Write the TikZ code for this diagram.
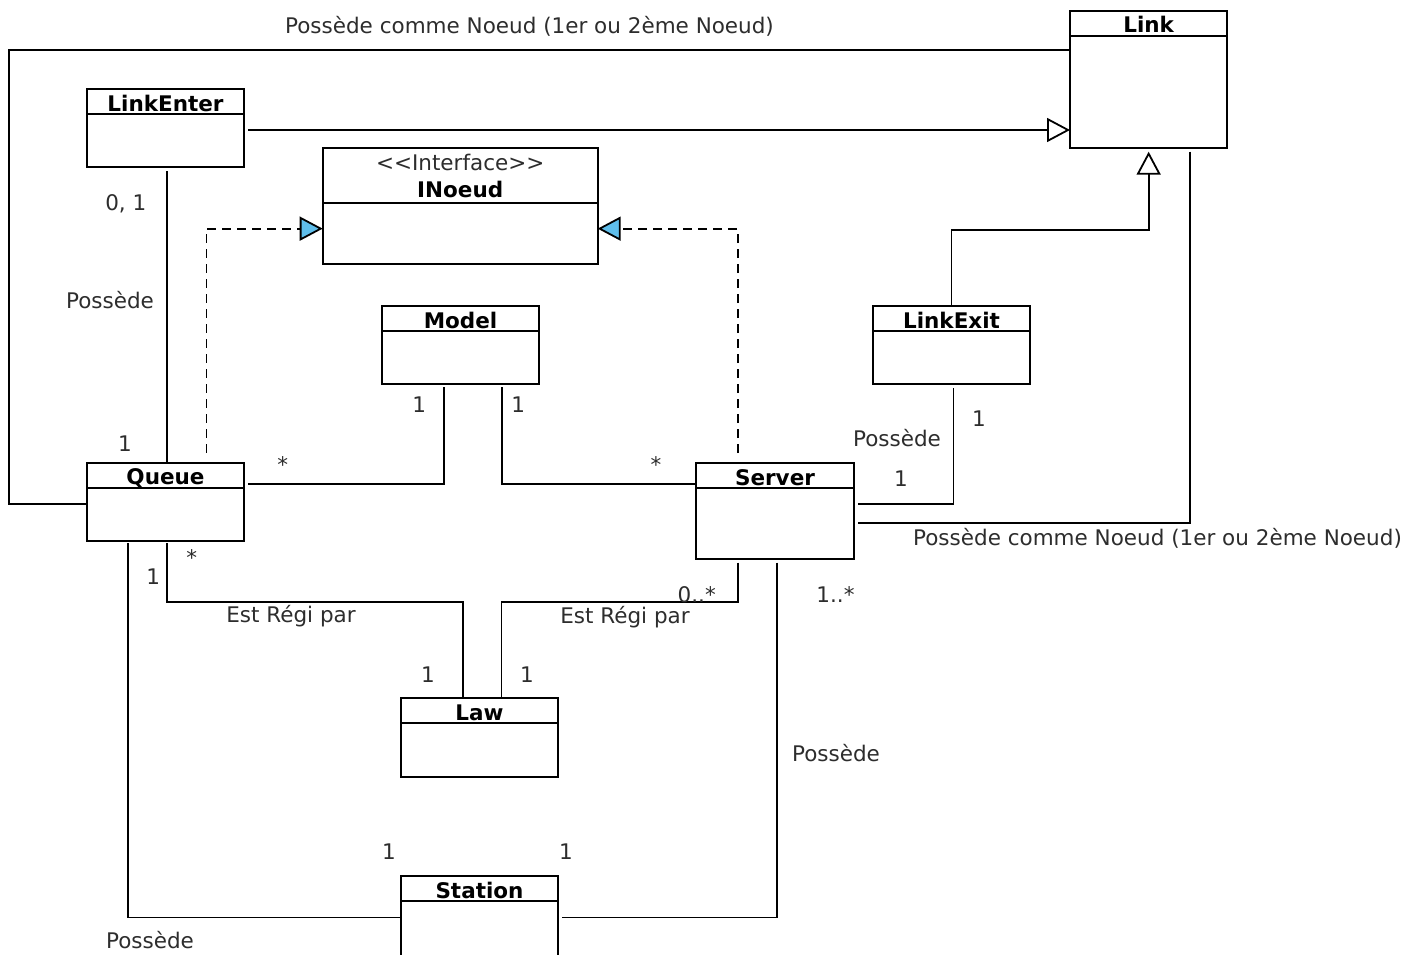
\documentclass[tikz,border=0pt]{standalone}
\usepackage{fontspec}
\setmainfont{DejaVu Sans}
\usetikzlibrary{arrows.meta}

\definecolor{inoeudblue}{RGB}{95,190,235}
\definecolor{labelgray}{RGB}{45,45,45}

\tikzset{
  classbox/.style={draw, line width=1.8pt, inner sep=0pt, outer sep=0pt, fill=white},
  headline/.style={line width=1.8pt},
  classtitle/.style={font=\fontsize{21.5}{26}\selectfont\bfseries, inner sep=0pt, anchor=base},
  lab/.style={font=\fontsize{21.5}{26}\selectfont, text=labelgray, inner sep=0pt, anchor=base},
  assoc/.style={line width=1.8pt},
  gen/.style={line width=1.8pt, -{Triangle[open, length=23pt, width=24pt, line width=1.8pt]}},
  real/.style={line width=1.8pt, dash pattern=on 9pt off 6pt,
    -{Triangle[length=23pt, width=24pt, fill=inoeudblue, line width=1.8pt]}},
}

% name, left, top, width, height, title
\newcommand\umlclass[6]{%
  \node[classbox, minimum width=#4pt, minimum height=#5pt, anchor=north west] (#1) at (#2,#3) {};
  \draw[headline] ([yshift=-25pt]#1.north west) -- ([yshift=-25pt]#1.north east);
  \node[classtitle] (#1-title) at ([yshift=-22pt]#1.north) {#6};
}

\begin{document}
\begin{tikzpicture}[x=1pt, y=-1pt]
\useasboundingbox (0,0) rectangle (1418,954);

% classes
\umlclass{link}{1070}{10.7}{157.3}{137}{Link}
\umlclass{linkenter}{86.7}{89.3}{157.6}{78}{LinkEnter}
\umlclass{model}{382}{306}{157}{78}{Model}
\umlclass{linkexit}{873}{306}{157}{78}{LinkExit}
\umlclass{queue}{86.7}{462.7}{157.6}{78.6}{Queue}
\umlclass{server}{696}{463}{158}{96.3}{Server}
\umlclass{law}{401}{698}{157}{79}{Law}
\umlclass{station}{401}{876}{157}{80}{Station}

% interface
\node[classbox, minimum width=275pt, minimum height=115.7pt, anchor=north west] (inoeud) at (322.7,148.3) {};
\draw[headline] ([yshift=-54.4pt]inoeud.north west) -- ([yshift=-54.4pt]inoeud.north east);
\node[lab] (inoeud-stereo) at ([yshift=-21.7pt]inoeud.north) {<\kern0pt<Interface>\kern0pt>};
\node[classtitle] (inoeud-title) at ([yshift=-49pt]inoeud.north) {INoeud};

% generalisations
\draw[gen] ([xshift=4pt, yshift=-1.7pt]linkenter.east) -- ([yshift=-1.7pt]linkenter.east -| link.west);
\draw[gen] (linkexit.north) -- ++(0,-76) -| ([yshift=-4pt]link.south);

% realisations
\draw[real] ([xshift=41pt, yshift=10pt]queue.north) |- ([yshift=-22.5pt]inoeud.west);
\draw[real] ([xshift=-37.3pt, yshift=10pt]server.north) |- ([yshift=-22.5pt]inoeud.east);

% associations
\draw[assoc] ([yshift=-39pt]link.north west) -- ++(-1061,0) |- ([yshift=-41.3pt]queue.north west);
\draw[assoc] ([xshift=41pt, yshift=-4pt]link.south) |- ([xshift=4pt, yshift=-12pt]server.east);
\draw[assoc] ([xshift=2pt, yshift=-4pt]linkexit.south) |- ([xshift=4pt, yshift=7.2pt]server.east);
\draw[assoc] ([xshift=1.8pt, yshift=-4pt]linkenter.south) -- ([xshift=1.8pt]queue.north);
\draw[assoc] ([xshift=-16.2pt, yshift=-3.4pt]model.south) |- ([xshift=4pt, yshift=17.7pt]queue.east);
\draw[assoc] ([xshift=41.2pt, yshift=-3.4pt]model.south) |- ([yshift=26.9pt]server.west);
\draw[assoc] ([xshift=1.8pt, yshift=-2pt]queue.south) -- ++(0,58.4) -| ([xshift=-16.5pt]law.north);
\draw[assoc] ([xshift=-37.3pt, yshift=-3.4pt]server.south) -- ++(0,39) -| ([xshift=22pt]law.north);
\draw[assoc] ([xshift=-37.5pt, yshift=-2pt]queue.south) |- ([yshift=-1.5pt]station.west);
\draw[assoc] ([xshift=1.7pt, yshift=-3.4pt]server.south) |- ([xshift=4pt, yshift=-1.5pt]station.east);

% association labels and multiplicities
\node[lab] (t-linkqueue) at (529.5,33) {Possède comme Noeud (1er ou 2ème Noeud)};
\node[lab] (t-linkserver) at (1157.5,545) {Possède comme Noeud (1er ou 2ème Noeud)};
\node[lab] (m-enter) at (125.8,210) {0, 1};
\node[lab] (t-enterqueue) at (110,308) {Possède};
\node[lab] (m-queuetop) at (125,451.7) {1};
\node[lab] (m-queuemodel) at (282.7,472) {*};
\node[lab] (m-modelleft) at (419.3,412.3) {1};
\node[lab] (m-modelright) at (518.3,412.3) {1};
\node[lab] (m-servermodel) at (656,472) {*};
\node[lab] (t-exitserver) at (897,446.7) {Possède};
\node[lab] (m-exit) at (979,426.7) {1};
\node[lab] (m-serverexit) at (901,486) {1};
\node[lab] (m-queuelaw) at (191.7,565) {*};
\node[lab] (m-queuestation) at (153.3,584) {1};
\node[lab] (t-queuelaw) at (291,622.5) {Est Régi par};
\node[lab] (t-serverlaw) at (625,623) {Est Régi par};
\node[lab] (m-serverlaw) at (696.7,602.7) {0..*};
\node[lab] (m-serverstation) at (835.5,602.7) {1..*};
\node[lab] (m-lawleft) at (428,682.3) {1};
\node[lab] (m-lawright) at (527,682.3) {1};
\node[lab] (t-serverstation) at (836,761.7) {Possède};
\node[lab] (m-stationleft) at (389,859.3) {1};
\node[lab] (m-stationright) at (566,859.3) {1};
\node[lab] (t-queuestation) at (150,948) {Possède};
\end{tikzpicture}
\end{document}
